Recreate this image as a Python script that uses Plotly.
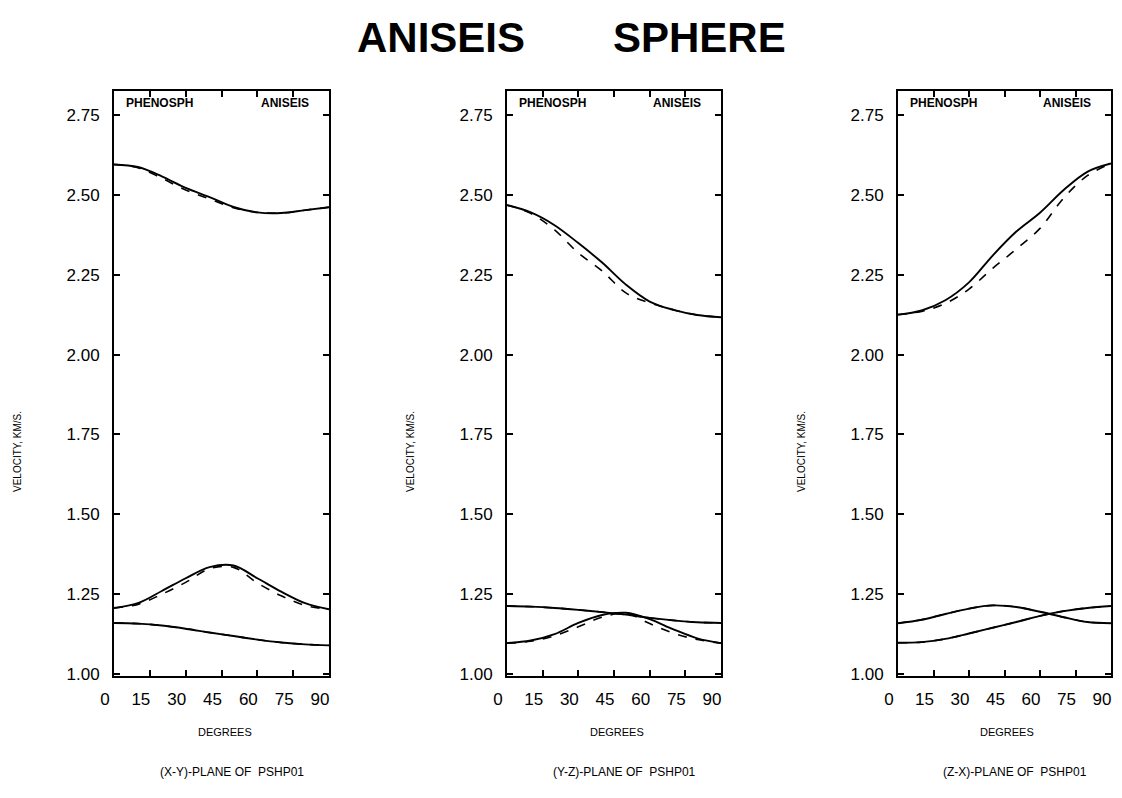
import plotly.graph_objects as go

# ---------------- data ----------------
degrees = [0, 10, 20, 30, 40, 50, 60, 70, 80, 90]
x_ticks = [0, 15, 30, 45, 60, 75, 90]
y_ticks = [1.00, 1.25, 1.50, 1.75, 2.00, 2.25, 2.50, 2.75]

# (X-Y)-plane
xy_p_solid = [2.595, 2.587, 2.558, 2.522, 2.493, 2.462, 2.445, 2.443, 2.452, 2.461]
xy_p_dash = [2.595, 2.585, 2.552, 2.515, 2.487, 2.460, 2.445, 2.443, 2.452, 2.461]
xy_s1_solid = [1.207, 1.222, 1.260, 1.300, 1.335, 1.340, 1.300, 1.258, 1.222, 1.203]
xy_s1_dash = [1.207, 1.218, 1.250, 1.287, 1.330, 1.334, 1.285, 1.245, 1.215, 1.203]
xy_s2_solid = [1.160, 1.158, 1.152, 1.142, 1.130, 1.119, 1.108, 1.099, 1.093, 1.090]
xy_s2_dash = [1.160, 1.158, 1.152, 1.142, 1.130, 1.119, 1.108, 1.099, 1.093, 1.090]

# (Y-Z)-plane
yz_p_solid = [2.468, 2.445, 2.405, 2.349, 2.288, 2.219, 2.166, 2.140, 2.124, 2.117]
yz_p_dash = [2.468, 2.442, 2.390, 2.318, 2.262, 2.193, 2.162, 2.140, 2.124, 2.117]
yz_s1_solid = [1.213, 1.211, 1.207, 1.201, 1.194, 1.186, 1.176, 1.168, 1.162, 1.160]
yz_s1_dash = [1.213, 1.211, 1.207, 1.201, 1.194, 1.186, 1.176, 1.168, 1.162, 1.160]
yz_s2_solid = [1.097, 1.105, 1.125, 1.160, 1.185, 1.192, 1.172, 1.140, 1.112, 1.097]
yz_s2_dash = [1.097, 1.103, 1.120, 1.148, 1.178, 1.190, 1.158, 1.128, 1.108, 1.097]

# (Z-X)-plane
zx_p_solid = [2.125, 2.138, 2.170, 2.226, 2.310, 2.385, 2.444, 2.515, 2.572, 2.598]
zx_p_dash = [2.125, 2.135, 2.160, 2.205, 2.270, 2.330, 2.395, 2.490, 2.560, 2.598]
zx_s1_solid = [1.159, 1.170, 1.188, 1.205, 1.215, 1.210, 1.195, 1.178, 1.163, 1.159]
zx_s1_dash = [1.159, 1.170, 1.188, 1.205, 1.215, 1.210, 1.195, 1.178, 1.163, 1.159]
zx_s2_solid = [1.098, 1.100, 1.110, 1.127, 1.145, 1.163, 1.182, 1.197, 1.207, 1.213]
zx_s2_dash = [1.098, 1.100, 1.110, 1.127, 1.145, 1.163, 1.182, 1.197, 1.207, 1.213]

panels = [
    ("(X-Y)-PLANE OF  PSHP01", [xy_p_solid, xy_s1_solid, xy_s2_solid], [xy_p_dash, xy_s1_dash, xy_s2_dash]),
    ("(Y-Z)-PLANE OF  PSHP01", [yz_p_solid, yz_s1_solid, yz_s2_solid], [yz_p_dash, yz_s1_dash, yz_s2_dash]),
    ("(Z-X)-PLANE OF  PSHP01", [zx_p_solid, zx_s1_solid, zx_s2_solid], [zx_p_dash, zx_s1_dash, zx_s2_dash]),
]

# ---------------- layout geometry ----------------
# the page body has an 8px default margin, so the figure is drawn 8px smaller and
# every screen position is expressed relative to that offset
OFF = 8
W, H = 1122 - OFF, 798 - OFF


def px(x):
    return (x - OFF) / W


def py(y):
    return 1 - (y - OFF) / H


x_px = [(114, 329), (507, 721), (898, 1111)]
y_top, y_bot = 91, 676
ydom = [py(y_bot), py(y_top)]

fig = go.Figure()
annotations = []
small_font = dict(family="Liberation Sans Narrow, Liberation Sans, Arial", size=10, color="black")
deg_font = dict(family="Liberation Sans Narrow, Liberation Sans, Arial", size=11, color="black")
cap_font = dict(family="Liberation Sans Narrow, Liberation Sans, Arial", size=12, color="black")
lab_font = dict(family="Liberation Sans Narrow, Liberation Sans, Arial", size=12, color="black")

for i, (caption, solids, dashes) in enumerate(panels):
    n = "" if i == 0 else str(i + 1)
    xa, ya = "x" + n, "y" + n
    for s in dashes:
        fig.add_trace(go.Scatter(x=degrees, y=s, mode="lines", xaxis=xa, yaxis=ya,
                                 line=dict(color="black", width=1.6, dash="dash", shape="spline"),
                                 showlegend=False, hoverinfo="skip"))
    for s in solids:
        fig.add_trace(go.Scatter(x=degrees, y=s, mode="lines", xaxis=xa, yaxis=ya,
                                 line=dict(color="black", width=1.9, shape="spline"),
                                 showlegend=False, hoverinfo="skip"))
    x0, x1 = x_px[i]
    common = dict(showline=True, linecolor="black", linewidth=2, mirror="allticks",
                  ticks="inside", ticklen=6, tickwidth=1.5, tickcolor="black",
                  showgrid=False, zeroline=False, fixedrange=True, automargin=False,
                  tickfont=dict(family="Liberation Sans, Arial", size=17, color="black"))
    fig.layout["xaxis" + n] = dict(domain=[px(x0), px(x1)], range=[0, 90], anchor=ya,
                                   tickvals=x_ticks, ticktext=[str(v) for v in x_ticks],
                                   ticklabelstandoff=7, ticklabelshift=-9, **common)
    fig.layout["yaxis" + n] = dict(domain=ydom, range=[0.994, 2.825], anchor=xa,
                                   tickvals=y_ticks, ticktext=[f"{v:.2f}" for v in y_ticks],
                                   ticklabelstandoff=9, **common)
    # in-panel labels
    annotations.append(dict(text="<b>PHENOSPH</b>", x=px(x0 + 10), y=py(103), xref="paper", yref="paper",
                            xanchor="left", yanchor="middle", showarrow=False, font=lab_font))
    annotations.append(dict(text="<b>ANISEIS</b>", x=px(x1 - 18), y=py(103), xref="paper", yref="paper",
                            xanchor="right", yanchor="middle", showarrow=False, font=lab_font))
    # axis titles
    annotations.append(dict(text="VELOCITY, KM/S.", x=px(x0 - 97), y=py(452), xref="paper", yref="paper",
                            xanchor="center", yanchor="middle", showarrow=False, textangle=-90, font=small_font))
    annotations.append(dict(text="DEGREES", x=px((x0 + x1) / 2 + 3), y=py(732), xref="paper", yref="paper",
                            xanchor="center", yanchor="middle", showarrow=False, font=deg_font))
    annotations.append(dict(text=caption, x=px((x0 + x1) / 2 + 10), y=py(772), xref="paper", yref="paper",
                            xanchor="center", yanchor="middle", showarrow=False, font=cap_font))

title_font = dict(family="Liberation Sans, Arial", size=42, color="black")
annotations.append(dict(text="<b>ANISEIS</b>", x=px(441), y=py(38), xref="paper", yref="paper",
                        xanchor="center", yanchor="middle", showarrow=False, font=title_font))
annotations.append(dict(text="<b>SPHERE</b>", x=px(699), y=py(38), xref="paper", yref="paper",
                        xanchor="center", yanchor="middle", showarrow=False, font=title_font))

fig.update_layout(width=W, height=H, margin=dict(l=0, r=0, t=0, b=0, autoexpand=False),
                  paper_bgcolor="white", plot_bgcolor="white", annotations=annotations)

fig.write_html("out.html", config={"displayModeBar": False})
